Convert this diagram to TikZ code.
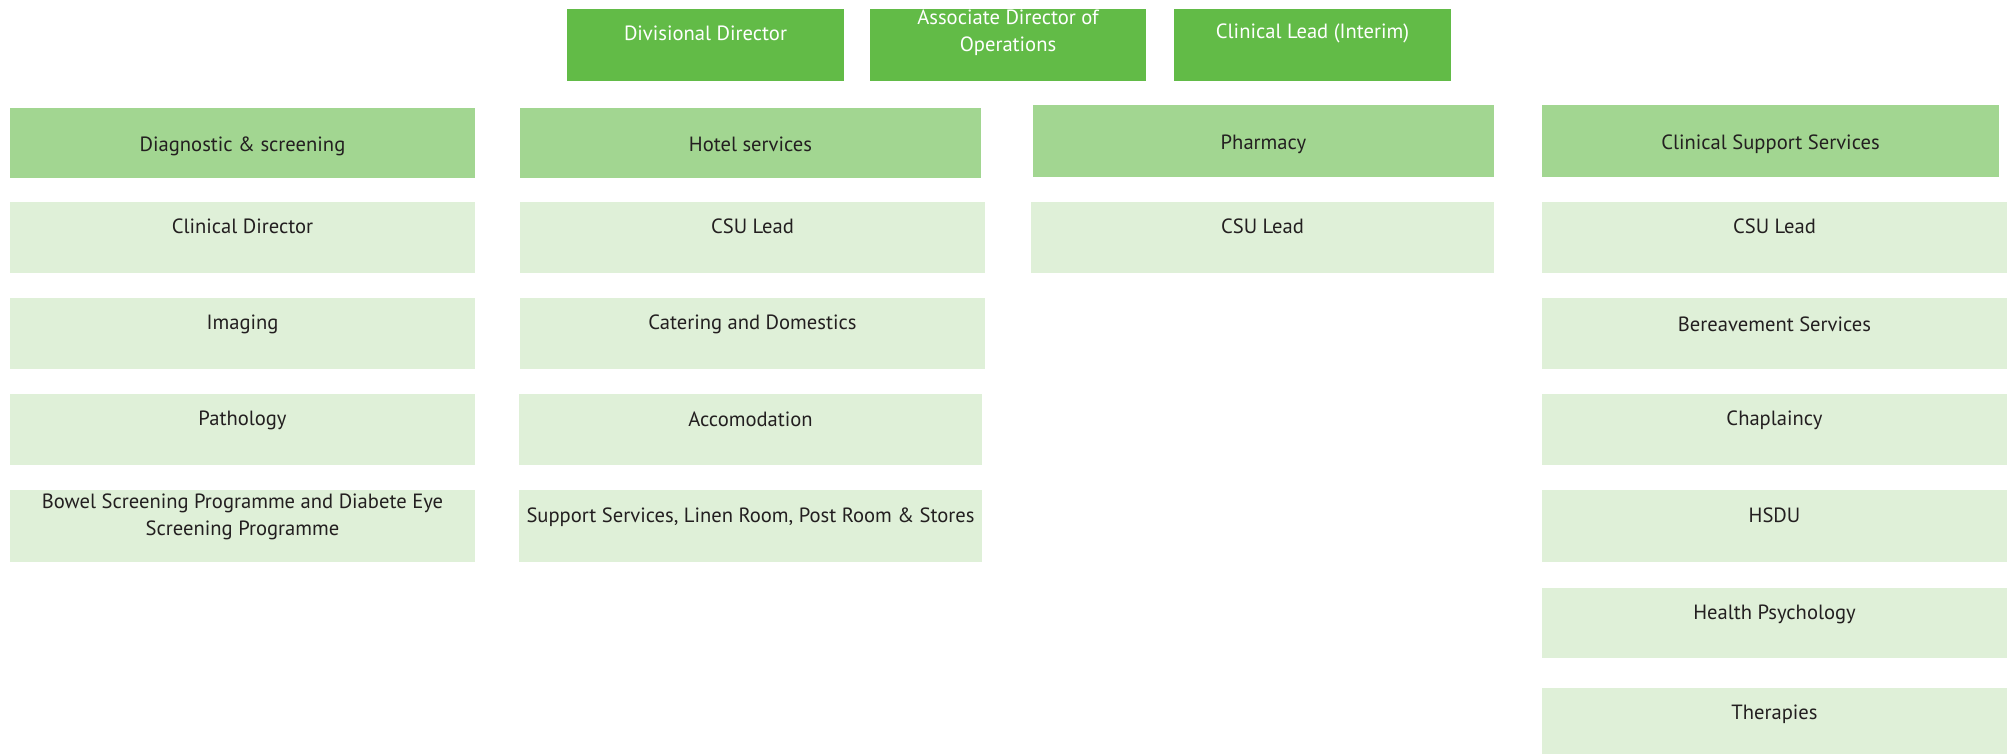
\documentclass[tikz,border=0pt]{standalone}
\usepackage{fontspec}
\setmainfont{PT Sans}
\usetikzlibrary{calc}
\definecolor{topgreen}{RGB}{98,187,71}
\definecolor{headgreen}{RGB}{162,214,145}
\definecolor{itemgreen}{RGB}{223,240,216}
\definecolor{txtdark}{RGB}{35,31,32}
\tikzset{
  boxbase/.style={rectangle, inner sep=0pt, outer sep=0pt, anchor=north west, draw=none},
  topbox/.style={boxbase, fill=topgreen},
  headbox/.style={boxbase, fill=headgreen},
  itembox/.style={boxbase, fill=itemgreen},
  lbl/.style={font=\fontsize{10.3pt}{13.5pt}\selectfont, align=center, text=txtdark, inner sep=0pt},
  toplbl/.style={lbl, text=white},
}
\newcommand\orgbox[9]{%
  \node[#2, minimum width={(#5-#3)*0.5pt}, minimum height={(#6-#4)*0.5pt}] (#1) at (#3,#4) {};
  \node[#7] (#1t) at ($(#1.north)+(0,#8)$) {#9};
}
\begin{document}
\begin{tikzpicture}[x=0.5pt,y=-0.5pt]
\useasboundingbox (0,0) rectangle (2008,754);
% top row
\orgbox{dd}{topbox}{567}{9}{844}{81}{toplbl}{24}{Divisional Director}
\orgbox{ad}{topbox}{870}{9}{1146}{81}{toplbl}{24}{Associate Director of\\Operations}
\orgbox{cl}{topbox}{1174}{9}{1451}{81}{toplbl}{24}{Clinical Lead (Interim)}
% headers
\orgbox{h1}{headbox}{10}{108}{475}{178}{lbl}{38}{Diagnostic \& screening}
\orgbox{h2}{headbox}{520}{108}{981}{178}{lbl}{36}{Hotel services}
\orgbox{h3}{headbox}{1033}{105}{1494}{177}{lbl}{39}{Pharmacy}
\orgbox{h4}{headbox}{1542}{105}{1999}{177}{lbl}{39}{Clinical Support Services}
% column 1
\orgbox{a1}{itembox}{10}{202}{475}{273}{lbl}{24}{Clinical Director}
\orgbox{a2}{itembox}{10}{298}{475}{369}{lbl}{26}{Imaging}
\orgbox{a3}{itembox}{10}{394}{475}{465}{lbl}{26}{Pathology}
\orgbox{a4}{itembox}{10}{490}{475}{562}{lbl}{27}{Bowel Screening Programme and Diabete Eye\\Screening Programme}
% column 2
\orgbox{b1}{itembox}{520}{202}{985}{273}{lbl}{24}{CSU Lead}
\orgbox{b2}{itembox}{520}{298}{985}{369}{lbl}{26}{Catering and Domestics}
\orgbox{b3}{itembox}{519}{394}{982}{465}{lbl}{25}{Accomodation}
\orgbox{b4}{itembox}{519}{490}{982}{562}{lbl}{27}{Support Services, Linen Room, Post Room \& Stores}
% column 3
\orgbox{c1}{itembox}{1031}{202}{1494}{273}{lbl}{24}{CSU Lead}
% column 4
\orgbox{d1}{itembox}{1542}{202}{2007}{273}{lbl}{24}{CSU Lead}
\orgbox{d2}{itembox}{1542}{298}{2007}{369}{lbl}{26}{Bereavement Services}
\orgbox{d3}{itembox}{1542}{394}{2007}{465}{lbl}{26}{Chaplaincy}
\orgbox{d4}{itembox}{1542}{490}{2007}{562}{lbl}{25}{HSDU}
\orgbox{d5}{itembox}{1542}{588}{2007}{658}{lbl}{26}{Health Psychology}
\orgbox{d6}{itembox}{1542}{688}{2007}{754}{lbl}{26}{Therapies}
\end{tikzpicture}
\end{document}
